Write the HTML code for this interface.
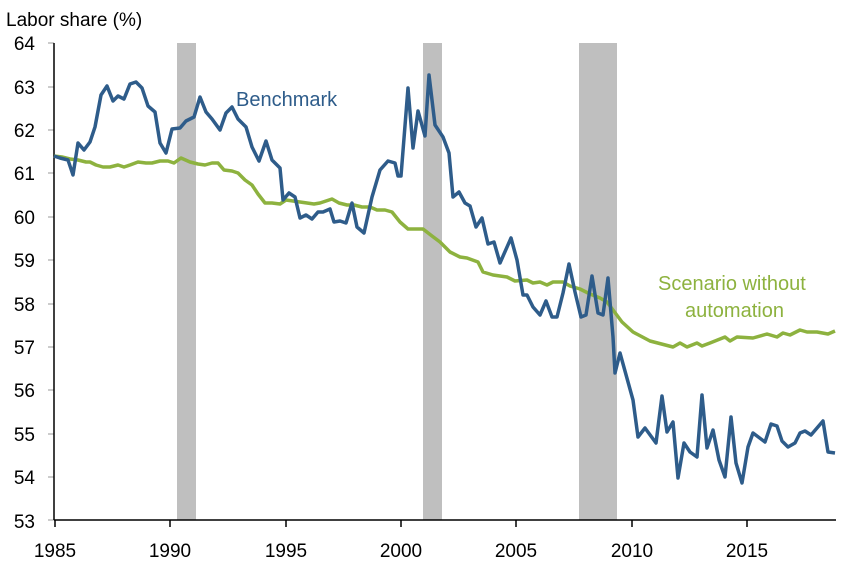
<!DOCTYPE html>
<html><head><meta charset="utf-8"><style>
body{margin:0;background:#fff}
text{font-family:"Liberation Sans",sans-serif}
</style></head><body>
<svg width="841" height="563" viewBox="0 0 841 563" xmlns="http://www.w3.org/2000/svg">
<rect width="841" height="563" fill="#fff"/>
<g fill="#bfbfbf">
<rect x="177" y="43" width="19" height="477"/>
<rect x="423" y="43" width="19" height="477"/>
<rect x="579" y="43" width="38" height="477"/>
</g>
<text x="6" y="26" font-size="19" fill="#000">Labor share (%)</text>
<g font-size="19" fill="#000" text-anchor="end">
<text x="35" y="50">64</text><text x="35" y="94">63</text><text x="35" y="137">62</text><text x="35" y="180">61</text>
<text x="35" y="224">60</text><text x="35" y="267">59</text><text x="35" y="311">58</text><text x="35" y="354">57</text>
<text x="35" y="397">56</text><text x="35" y="441">55</text><text x="35" y="484">54</text><text x="35" y="528">53</text>
</g>
<g stroke="#999" stroke-width="1">
<line x1="48" y1="43" x2="54" y2="43"/><line x1="48" y1="87" x2="54" y2="87"/><line x1="48" y1="130" x2="54" y2="130"/><line x1="48" y1="173" x2="54" y2="173"/>
<line x1="48" y1="217" x2="54" y2="217"/><line x1="48" y1="260" x2="54" y2="260"/><line x1="48" y1="304" x2="54" y2="304"/><line x1="48" y1="347" x2="54" y2="347"/>
<line x1="48" y1="390" x2="54" y2="390"/><line x1="48" y1="434" x2="54" y2="434"/><line x1="48" y1="477" x2="54" y2="477"/><line x1="48" y1="520" x2="54" y2="520"/>
</g>
<g stroke="#000" stroke-width="1.5">
<line x1="54" y1="43" x2="54" y2="520"/>
<line x1="54" y1="520" x2="836" y2="520"/>
<line x1="55" y1="520" x2="55" y2="527"/><line x1="170" y1="520" x2="170" y2="527"/><line x1="286" y1="520" x2="286" y2="527"/>
<line x1="401" y1="520" x2="401" y2="527"/><line x1="516" y1="520" x2="516" y2="527"/><line x1="632" y1="520" x2="632" y2="527"/><line x1="747" y1="520" x2="747" y2="527"/>
</g>
<g font-size="19" fill="#000" text-anchor="middle">
<text x="55" y="557">1985</text><text x="170" y="557">1990</text><text x="286" y="557">1995</text><text x="401" y="557">2000</text>
<text x="516" y="557">2005</text><text x="632" y="557">2010</text><text x="747" y="557">2015</text>
</g>
<polyline fill="none" stroke="#8db23f" stroke-width="3.5" stroke-linejoin="round" points="54,156 62,157 70,159 78,160 86,162 90,162 96,165 103,167 110,167 118,165 124,167 130,165 138,162 146,163 152,163 160,161 168,161 174,163 181,158 190,162 198,164 205,165 212,163 218,163 224,170 232,171 238,173 245,180 252,185 258,194 265,203 272,203 280,204 286,200 293,201 300,202 307,203 314,204 320,203 326,201 332,199 339,203 347,205 354,205 362,207 370,207 377,210 385,210 392,212 400,222 408,229 423,229 432,236 440,242 450,252 460,257 467,258 478,262 483,272 493,275 507,277 515,281 527,280 533,283 540,282 547,285 553,282 563,282 570,286 580,289 590,294 600,298 607,302 613,310 622,322 633,332 650,341 673,347 680,343 687,347 697,343 702,346 710,343 725,337 730,341 737,337 753,338 767,334 777,337 783,333 790,335 800,330 807,332 817,332 828,334 835,331"/>
<polyline fill="none" stroke="#2e5c8a" stroke-width="3.5" stroke-linejoin="round" points="54,156 60,158 68,160 73,175 78,143 84,150 90,142 95,127 101,95 107,86 113,101 118,96 124,99 130,84 136,82 142,88 148,106 155,112 160,143 166,153 172,129 180,128 186,121 194,117 200,97 206,112 212,119 220,130 226,113 232,107 238,119 246,127 252,147 259,161 266,141 272,160 280,168 283,200 289,193 295,197 300,218 306,215 312,219 318,212 323,212 330,209 334,222 340,221 346,223 352,203 357,227 364,233 372,197 380,170 388,161 395,163 398,176 401,176 408,88 413,148 418,111 425,136 429,75 435,125 443,137 449,153 453,197 459,192 465,203 470,206 476,227 482,218 488,244 494,242 500,263 511,238 517,260 523,295 527,295 533,307 540,315 546,301 552,317 557,317 563,293 569,264 575,292 581,317 586,315 592,276 598,313 603,315 608,278 613,337 615,373 620,353 633,400 638,437 645,428 656,443 662,396 667,432 673,422 678,478 684,443 690,452 697,457 702,395 707,448 713,430 719,460 725,477 731,417 736,463 742,483 748,447 753,433 765,442 771,424 777,426 782,441 788,447 795,443 800,433 805,431 811,435 823,421 828,452 835,453"/>
<text x="236" y="106" font-size="20" fill="#2e5c8a">Benchmark</text>
<text x="658" y="290" font-size="20" fill="#8db23f">Scenario without</text>
<text x="685" y="317" font-size="20" fill="#8db23f">automation</text>
</svg>
</body></html>
